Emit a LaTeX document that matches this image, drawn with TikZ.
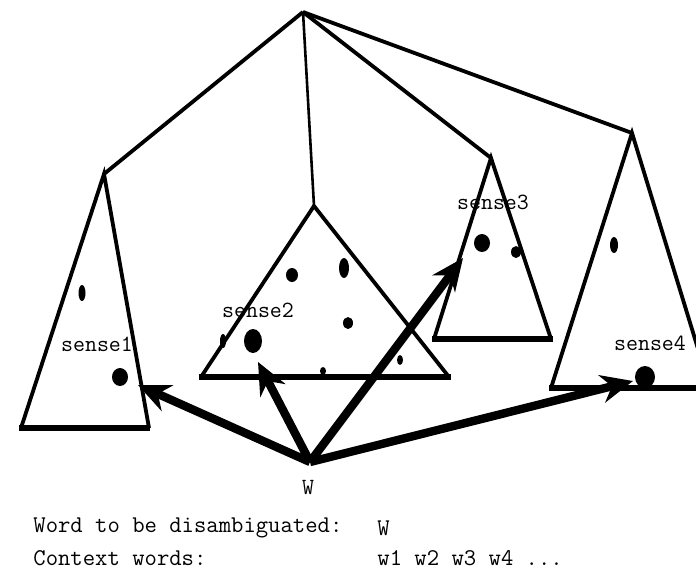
\documentclass[tikz,border=0pt]{standalone}
\usetikzlibrary{arrows.meta}

\begin{document}
\begin{tikzpicture}[x=0.5pt, y=-0.5pt]
    % Define line widths
    \def\sideWidth{1.9pt}
    \def\baseWidth{3.4pt}

    \definecolor{inkColour}{HTML}{000000}

    \tikzset{
        side/.style={draw=inkColour, line width=\sideWidth, line join=miter},
        base/.style={draw=inkColour, line width=\baseWidth},
        sense/.style={font=\fontsize{11.6}{14}\selectfont\ttfamily, inner sep=0pt},
        caption/.style={font=\fontsize{12}{15}\selectfont\ttfamily, inner sep=0pt, anchor=west},
        choice/.style={draw=inkColour, line width=4.2pt, -{Stealth[length=16pt, width=14pt]}},
        dot/.style={fill=inkColour}
    }

    % Fix the page and cut off what runs past it
    \useasboundingbox (0,0) rectangle (696,574);
    \clip (0,0) rectangle (696,574);

    % Define the root and the apex of each sense
    \coordinate (root) at (303,12);
    \coordinate (apexA) at (104,174);
    \coordinate (apexB) at (314,206);
    \coordinate (apexC) at (491,158);
    \coordinate (apexD) at (632,133);

    % Draw the tree
    \draw[side] (root) -- (apexA);
    \draw[side, line width=1.3pt] (root) -- (apexB);
    \draw[side] (root) -- (apexC);
    \draw[side] (root) -- (apexD);

    % Draw the triangles
    \draw[side] (21,428) -- (apexA) -- (149,428);
    \draw[base] (19,428) -- (150,428);
    \draw[side] (201,377) -- (apexB) -- (449,377);
    \draw[base] (199,377) -- (451,377);
    \draw[side] (434,339) -- (apexC) -- (551,339);
    \draw[base] (432,339) -- (553,339);
    \draw[side] (551,388) -- (apexD) -- (710,388);
    \draw[base] (549,388) -- (712,388);

    % Draw the dots of sense1
    \fill[dot] (82,293) ellipse (3.5 and 8);
    \fill[dot] (120,377) ellipse (8 and 9);

    % Draw the dots of sense2
    \fill[dot] (292,275) ellipse (6 and 7);
    \fill[dot] (344,268) ellipse (5 and 10);
    \fill[dot] (348,323) ellipse (5 and 6);
    \fill[dot] (253,341) ellipse (9 and 12);
    \fill[dot] (223,341) ellipse (3 and 7);
    \fill[dot] (323,371) ellipse (3 and 4);
    \fill[dot] (400,360) ellipse (3 and 5);

    % Draw the dots of sense3
    \fill[dot] (482,243) ellipse (8 and 9);
    \fill[dot] (516,252) ellipse (5 and 6);

    % Draw the dots of sense4
    \fill[dot] (614,245) ellipse (4 and 8);
    \fill[dot] (645,377) ellipse (10 and 11);

    % Label the senses
    \node[sense] (labelA) at (97,344) {sense1};
    \node[sense] (labelB) at (258,310) {sense2};
    \node[sense] (labelC) at (493,202) {sense3};
    \node[sense] (labelD) at (650,343) {sense4};

    % Define the word and the arrow tips
    \node[sense] (word) at (308,488) {W};
    \coordinate (wordTop) at (310,462);
    \coordinate (tipA) at (138,385);
    \coordinate (tipB) at (258,362);
    \coordinate (tipC) at (463,258);
    \coordinate (tipD) at (633,381);

    % Draw the arrows
    \foreach \t in {tipA, tipB, tipC, tipD}
        \draw[choice] (wordTop) -- (\t);

    % Write the caption
    \node[caption] (capWord) at (33,528) {Word to be disambiguated:};
    \node[caption] (capWordVal) at (377,528) {W};
    \node[caption] (capCtx) at (33,558) {Context words:};
    \node[caption] (capCtxVal) at (377,558) {w1 w2 w3 w4 ...};
\end{tikzpicture}
\end{document}
